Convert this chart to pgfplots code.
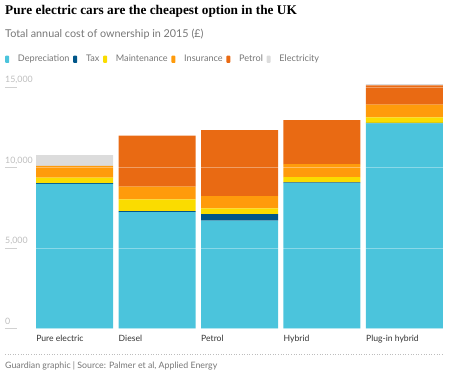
\documentclass[border=0pt]{standalone}
\usepackage{fontspec}
\setmainfont{Lato}
\newfontfamily\titlefont{Liberation Serif}
\usepackage{pgfplots}
\pgfplotsset{compat=1.18}
\usepackage{pgfplotstable}
\definecolor{cdep}{HTML}{4BC4DC}
\definecolor{ctax}{HTML}{005689}
\definecolor{cmaint}{HTML}{FADC00}
\definecolor{cins}{HTML}{FF9B0B}
\definecolor{cpet}{HTML}{E96A13}
\definecolor{celec}{HTML}{DCDCDC}
\definecolor{txtgrey}{HTML}{767676}
\definecolor{ticktxt}{HTML}{BDBDBD}
\definecolor{dark}{HTML}{333333}
\pgfplotstableread{
x dep tax maint ins pet elec
0 9000 50 330 740 0 660
1 7250 60 730 780 3170 0
2 6710 410 360 760 4100 0
3 9050 40 330 810 2730 0
4 12750 30 350 790 1190 90
}\costdata
\begin{document}
\begin{tikzpicture}[x=1pt,y=1pt]
\path[use as bounding box] (0,0) rectangle (449,-377);
\node[anchor=base west, inner sep=0, font=\titlefont\bfseries\fontsize{13.3}{15}\selectfont, text=black] at (5,-14.7) {Pure electric cars are the cheapest option in the UK};
\node[anchor=base west, inner sep=0, font=\fontsize{10.8}{12}\selectfont, text=txtgrey] at (5,-37.8) {Total annual cost of ownership in 2015 (£)};
\begin{axis}[
  at={(36pt,-328.7pt)}, anchor=south west,
  scale only axis, width=407pt, height=249.5pt,
  ybar stacked, bar width=77pt,
  xmin=-0.468, xmax=4.468, ymin=0, ymax=15500,
  axis line style={draw=none}, major tick length=0pt,
  ymajorgrids, grid style={white, opacity=0.35, line width=0.8pt},
  axis on top,
  xtick=data,
  xticklabels={Pure electric, Diesel, Petrol, Hybrid, Plug-in hybrid},
  xticklabel style={anchor=base west, inner sep=0pt, xshift=-38.5pt, yshift=-12.6pt, font=\fontsize{8.6}{10}\selectfont, text=dark},
  ytick={0,5000,10000,15000},
  scaled y ticks=false,
  yticklabel style={anchor=base west, inner sep=0pt, xshift=-31pt, yshift=4.5pt, font=\fontsize{8.8}{10}\selectfont, text=ticktxt},
  /pgf/number format/.cd, 1000 sep={,}, assume math mode=true,
  /pgfplots/.cd,
  every axis plot/.append style={draw=none},
  legend columns=6,
  legend style={at={(-0.0762,1.0798)}, anchor=west, draw=none, fill=none, inner sep=0pt,
    font=\fontsize{9.1}{10}\selectfont, text=txtgrey,
    nodes={inner xsep=0pt, inner ysep=1pt},
    /tikz/every even column/.append style={column sep=3.7pt},
    /tikz/every odd column/.append style={column sep=8.8pt}},
  legend image code/.code={\fill[#1, draw=none, rounded corners=0.8pt] (0pt,-3.6pt) rectangle (4pt,3.6pt);},
]
\addplot[fill=cdep] table[x=x, y=dep] {\costdata};
\addlegendentry{Depreciation}
\addplot[fill=ctax] table[x=x, y=tax] {\costdata};
\addlegendentry{Tax}
\addplot[fill=cmaint] table[x=x, y=maint] {\costdata};
\addlegendentry{Maintenance}
\addplot[fill=cins] table[x=x, y=ins] {\costdata};
\addlegendentry{Insurance}
\addplot[fill=cpet] table[x=x, y=pet] {\costdata};
\addlegendentry{Petrol}
\addplot[fill=celec] table[x=x, y=elec] {\costdata};
\addlegendentry{Electricity}
\end{axis}
\foreach \yy in {-328.7,-248.2,-167.7,-87.2} \draw[ticktxt!70, line width=0.6pt] (5,\yy) -- (17,\yy);
\draw[ticktxt, dotted, line width=0.6pt] (5,-354.3) -- (443,-354.3);
\node[anchor=base west, inner sep=0, font=\fontsize{8.8}{10}\selectfont, text=txtgrey] at (5,-368.7) {Guardian graphic | Source: Palmer et al, Applied Energy};
\end{tikzpicture}
\end{document}
